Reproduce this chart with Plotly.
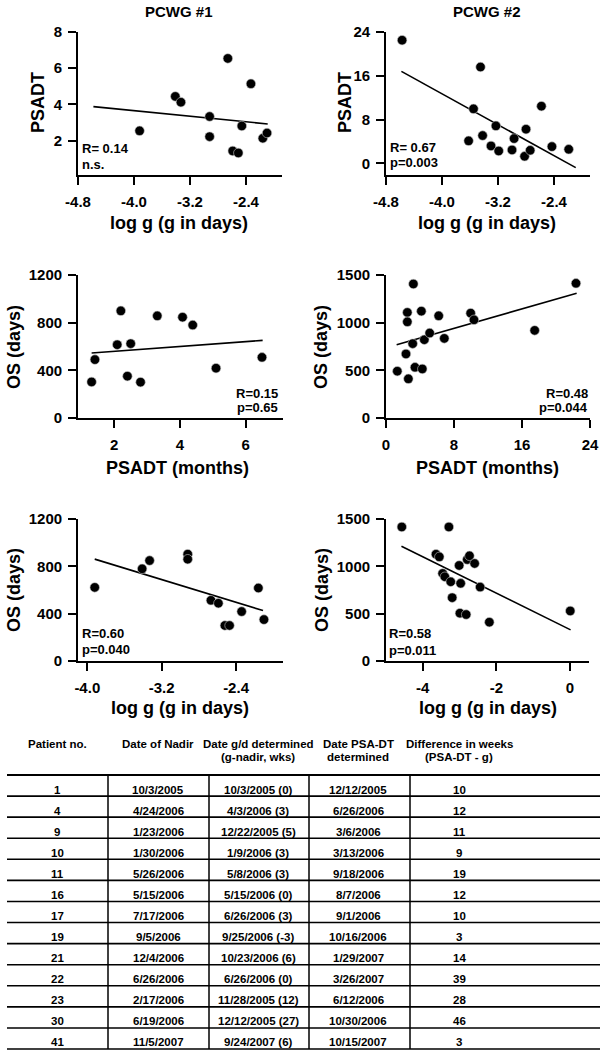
import plotly.graph_objects as go

W, H = 601, 1050

# ---------------- data ----------------
# Panel 1: PCWG #1, PSADT vs log g
p1_x = [-3.92, -3.41, -3.33, -2.92, -2.92, -2.66, -2.59, -2.51, -2.46, -2.33, -2.16, -2.10]
p1_y = [2.54, 4.44, 4.12, 3.33, 2.22, 6.54, 1.43, 1.32, 2.81, 5.14, 2.13, 2.42]
p1_fit_x = [-4.58, -2.09]
p1_fit_y = [3.88, 2.92]

# Panel 2: PCWG #2, PSADT vs log g
p2_x = [-4.57, -3.45, -3.55, -3.62, -3.42, -3.30, -3.23, -3.19, -3.00, -2.97,
        -2.82, -2.80, -2.74, -2.58, -2.43, -2.19]
p2_y = [22.5, 17.6, 9.95, 4.1, 5.07, 3.18, 6.84, 2.26, 2.44, 4.52,
        1.28, 6.23, 2.38, 10.44, 3.05, 2.56]
p2_fit_x = [-4.58, -2.09]
p2_fit_y = [16.8, -0.8]

# Panel 3: PCWG #1, OS vs PSADT
p3_x = [1.31, 1.41, 2.09, 2.20, 2.40, 2.50, 2.80, 3.31, 4.08, 4.39, 5.10, 6.50]
p3_y = [303, 490, 615, 899, 351, 624, 301, 857, 846, 780, 418, 509]
p3_fit_x = [1.31, 6.52]
p3_fit_y = [546, 651]

# Panel 4: PCWG #2, OS vs PSADT
p4_x = [1.33, 2.35, 2.51, 2.51, 2.63, 3.14, 3.22, 3.41, 4.16, 4.27,
        4.51, 5.14, 6.20, 6.86, 9.96, 10.35, 17.49, 22.35]
p4_y = [491, 672, 1107, 1009, 411, 780, 1406, 532, 1121, 515,
        821, 891, 1072, 835, 1100, 1030, 919, 1413]
p4_fit_x = [1.25, 22.43]
p4_fit_y = [769, 1308]

# Panel 5: PCWG #1, OS vs log g
p5_x = [-3.92, -3.41, -3.33, -2.92, -2.92, -2.67, -2.59, -2.52, -2.47, -2.34, -2.16, -2.10]
p5_y = [622, 779, 849, 903, 860, 513, 488, 300, 300, 418, 617, 350]
p5_fit_x = [-3.92, -2.11]
p5_fit_y = [861, 426]

# Panel 6: PCWG #2, OS vs log g
p6_x = [-4.57, -3.29, -3.64, -3.55, -3.46, -3.40, -3.24, -3.20, -3.01, -2.97,
        -2.99, -2.82, -2.79, -2.73, -2.59, -2.44, -2.19, 0.01]
p6_y = [1416, 1416, 1128, 1100, 925, 890, 837, 669, 1009, 820,
        505, 491, 1072, 1111, 1030, 781, 410, 529]
p6_fit_x = [-4.58, 0.02]
p6_fit_y = [1212, 329]

# tick labels
logg_ticks = [-4.8, -4.0, -3.2, -2.4]
logg_labels = ["-4.8", "-4.0", "-3.2", "-2.4"]
logg5_ticks = [-4.0, -3.2, -2.4]
logg5_labels = ["-4.0", "-3.2", "-2.4"]
logg6_ticks = [-4, -2, 0]
logg6_labels = ["-4", "-2", "0"]
psadt1_ticks = [2, 4, 6]
psadt2_ticks = [0, 8, 16, 24]
p1_yticks = [2, 4, 6, 8]
p2_yticks = [0, 8, 16, 24]
os1_ticks = [0, 400, 800, 1200]
os2_ticks = [0, 500, 1000, 1500]

stats_text = [["R= 0.14", "n.s."], ["R= 0.67", "p=0.003"], ["R=0.15", "p=0.65"],
              ["R=0.48", "p=0.044"], ["R=0.60", "p=0.040"], ["R=0.58", "p=0.011"]]
col_titles = ["PCWG #1", "PCWG #2"]

# table
tbl_patient = ["1", "4", "9", "10", "11", "16", "17", "19", "21", "22", "23", "30", "41"]
tbl_nadir = ["10/3/2005", "4/24/2006", "1/23/2006", "1/30/2006", "5/26/2006", "5/15/2006",
             "7/17/2006", "9/5/2006", "12/4/2006", "6/26/2006", "2/17/2006", "6/19/2006", "11/5/2007"]
tbl_gd = ["10/3/2005 (0)", "4/3/2006 (3)", "12/22/2005 (5)", "1/9/2006 (3)", "5/8/2006 (3)",
          "5/15/2006 (0)", "6/26/2006 (3)", "9/25/2006 (-3)", "10/23/2006 (6)", "6/26/2006 (0)",
          "11/28/2005 (12)", "12/12/2005 (27)", "9/24/2007 (6)"]
tbl_psadt = ["12/12/2005", "6/26/2006", "3/6/2006", "3/13/2006", "9/18/2006", "8/7/2006",
             "9/1/2006", "10/16/2006", "1/29/2007", "3/26/2007", "6/12/2006", "10/30/2006", "10/15/2007"]
tbl_diff = ["10", "12", "11", "9", "19", "12", "10", "3", "14", "39", "28", "46", "3"]
tbl_head1 = ["Patient no.", "Date of Nadir", "Date g/d determined", "Date PSA-DT", "Difference in weeks"]
tbl_head2 = ["", "", "(g-nadir, wks)", "determined", "(PSA-DT - g)"]

# ---------------- layout helpers ----------------
FONT = "Liberation Sans, Arial, Helvetica, sans-serif"


def px_x(p):
    return p / W


def px_y(p):
    return 1 - p / H


fig = go.Figure()

panels = [
    # (x, y, fitx, fity, left, right, top, bottom, xrange, yrange, xticks, xlabels, yticks)
    (p1_x, p1_y, p1_fit_x, p1_fit_y, 78, 282, 32, 175, [-4.8, -1.886], [0.1, 8],
     logg_ticks, logg_labels, p1_yticks),
    (p2_x, p2_y, p2_fit_x, p2_fit_y, 386, 590, 32, 175, [-4.8, -1.886], [-2.14, 24],
     logg_ticks, logg_labels, p2_yticks),
    (p3_x, p3_y, p3_fit_x, p3_fit_y, 78, 283, 275, 418, [0.895, 7.14], [0, 1200],
     psadt1_ticks, [str(v) for v in psadt1_ticks], os1_ticks),
    (p4_x, p4_y, p4_fit_x, p4_fit_y, 386, 590, 275, 418, [0, 24], [0, 1500],
     psadt2_ticks, [str(v) for v in psadt2_ticks], os2_ticks),
    (p5_x, p5_y, p5_fit_x, p5_fit_y, 78, 283, 519, 661, [-4.1, -1.895], [0, 1200],
     logg5_ticks, logg5_labels, os1_ticks),
    (p6_x, p6_y, p6_fit_x, p6_fit_y, 386, 589, 519, 661, [-5.0, 0.52], [0, 1500],
     logg6_ticks, logg6_labels, os2_ticks),
]

axis_common = dict(showline=True, linecolor="black", linewidth=1.8, ticks="outside",
                   ticklen=8, tickwidth=1.8, tickcolor="black", showgrid=False,
                   zeroline=False, fixedrange=True, automargin=False,
                   tickfont=dict(family=FONT, size=15, color="black", weight="bold"))

for i, (xs, ys, fx, fy, l, r, t, b, xr, yr, xt, xl, yt) in enumerate(panels):
    n = i + 1
    xa = "x" if n == 1 else f"x{n}"
    ya = "y" if n == 1 else f"y{n}"
    fig.add_trace(go.Scatter(x=fx, y=fy, mode="lines", xaxis=xa, yaxis=ya,
                             line=dict(color="black", width=1.6), showlegend=False,
                             hoverinfo="skip"))
    fig.add_trace(go.Scatter(x=xs, y=ys, mode="markers", xaxis=xa, yaxis=ya,
                             marker=dict(color="black", size=9.5,
                                         line=dict(color="#c8c8c8", width=0.6)),
                             showlegend=False, cliponaxis=False))
    xkey = "xaxis" if n == 1 else f"xaxis{n}"
    ykey = "yaxis" if n == 1 else f"yaxis{n}"
    fig.update_layout({
        xkey: dict(domain=[px_x(l), px_x(r)], range=xr, anchor=ya, tickvals=xt,
                   ticktext=xl, ticklabelstandoff=4, **axis_common),
        ykey: dict(domain=[px_y(b), px_y(t)], range=yr, anchor=xa, tickvals=yt,
                   ticklabelstandoff=3, **axis_common),
    })

annotations = []


def add_text(text, x, y, size, xanchor="center", angle=0):
    annotations.append(dict(text=text, x=px_x(x), y=px_y(y), xref="paper", yref="paper",
                            xanchor=xanchor, yanchor="middle", showarrow=False,
                            textangle=angle,
                            font=dict(family=FONT, size=size, color="black", weight="bold")))


# column titles
add_text(col_titles[0], 179, 11, 15)
add_text(col_titles[1], 487, 11, 15)

# axis titles
add_text("PSADT", 38, 103, 18, angle=-90)
add_text("PSADT", 345, 103, 18, angle=-90)
add_text("log g (g in days)", 179, 223, 18)
add_text("log g (g in days)", 487, 223, 18)
add_text("OS (days)", 14, 347, 18, angle=-90)
add_text("OS (days)", 321, 347, 18, angle=-90)
add_text("PSADT (months)", 177, 468, 18)
add_text("PSADT (months)", 488, 468, 18)
add_text("OS (days)", 14, 590, 18, angle=-90)
add_text("OS (days)", 322, 590, 18, angle=-90)
add_text("log g (g in days)", 180, 708, 18)
add_text("log g (g in days)", 488, 708, 18)

# statistics
stat_pos = [(80, 149, 164, "left"), (388, 147, 163, "left"), (280, 393, 407, "right"),
            (590, 393, 407, "right"), (80, 633, 649, "left"), (387, 633, 650, "left")]
for (x, y1, y2, anc), (s1, s2) in zip(stat_pos, stats_text):
    add_text(s1, x, y1, 13, xanchor=anc)
    add_text(s2, x, y2, 13, xanchor=anc)

# table
TFS = 11.5
col_cx = [57, 158, 258, 358, 459]
for cx, h1, h2 in zip(col_cx, tbl_head1, tbl_head2):
    add_text(h1, cx, 744, TFS)
    if h2:
        add_text(h2, cx, 757, TFS)

row_top = 775
row_h = 21.08
columns = [tbl_patient, tbl_nadir, tbl_gd, tbl_psadt, tbl_diff]
for k in range(len(tbl_patient)):
    for cx, col in zip(col_cx, columns):
        add_text(col[k], cx, row_top + row_h * k + 14.5, TFS)

shapes = []
n_rows = len(tbl_patient)
for k in range(n_rows + 1):
    yy = px_y(row_top + row_h * k)
    shapes.append(dict(type="line", xref="paper", yref="paper", x0=px_x(7), x1=px_x(600),
                       y0=yy, y1=yy, line=dict(color="black", width=2.2 if k == 0 else 1.6)))
for vx in [108, 209, 309, 410]:
    shapes.append(dict(type="line", xref="paper", yref="paper", x0=px_x(vx), x1=px_x(vx),
                       y0=px_y(row_top), y1=px_y(row_top + row_h * n_rows),
                       line=dict(color="black", width=1.5)))

fig.update_layout(template="none", width=W, height=H, autosize=False,
                  margin=dict(l=0, r=0, t=0, b=0, pad=0),
                  paper_bgcolor="white", plot_bgcolor="white",
                  annotations=annotations, shapes=shapes, showlegend=False,
                  font=dict(family=FONT, color="black"))

fig.write_html("out.html", config={"displayModeBar": False},
               post_script="document.body.style.margin='0';"
                           "document.body.style.padding='0';"
                           "document.body.style.overflow='hidden';")
